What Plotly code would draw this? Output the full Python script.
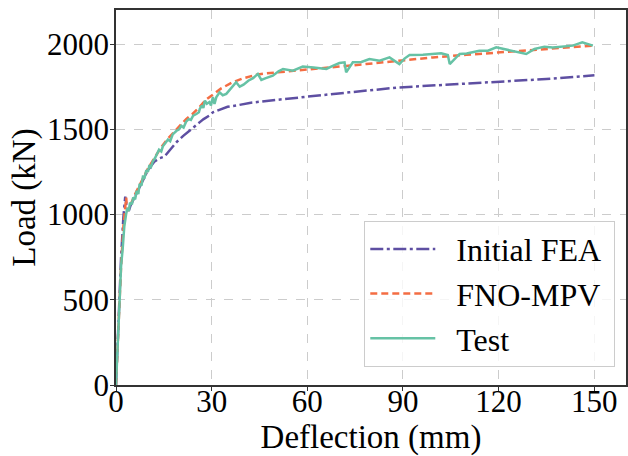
import plotly.graph_objects as go

# ---- data ----
fea_x = [0, 0.8, 1.6, 2.3, 2.7, 2.9, 3.3, 3.8, 4.5, 6, 8, 10, 12, 13.6, 15.2, 17, 19, 21, 23, 25,
         26.3, 27.5, 29.3, 30.4, 33, 35, 37.8, 41.9, 50, 57.6, 73.2, 88.9, 105, 120.3, 135, 150.1]
fea_y = [0, 400, 750, 980, 1083, 1105, 1050, 1010, 1050, 1110, 1190, 1260, 1310, 1330, 1340, 1380,
         1425, 1460, 1493, 1525, 1542, 1560, 1581, 1600, 1620, 1632, 1640, 1655, 1672, 1688, 1717,
         1746, 1762, 1776, 1795, 1817]

fno_x = [0, 0.8, 1.6, 2.4, 2.9, 3.2, 3.5, 4.2, 6, 8, 10, 12, 14, 16, 18, 20, 22, 24, 26.2, 28, 30,
         33, 36.6, 40, 44, 47.1, 55, 62.8, 70, 78.5, 90, 99.4, 110, 120.3, 130, 140, 149.6]
fno_y = [0, 400, 700, 950, 1080, 1100, 1020, 1040, 1120, 1200, 1270, 1330, 1390, 1440, 1480, 1520,
         1560, 1590, 1630, 1670, 1700, 1740, 1776, 1800, 1820, 1828, 1842, 1854, 1868, 1883, 1905,
         1922, 1937, 1952, 1965, 1978, 1991]

test_x = [0, 0.5, 1.1, 1.6, 2.1, 2.6, 3.2, 3.6, 4.0, 4.4, 5.0, 5.4, 6.0, 6.5, 7.0, 7.4, 8.0, 8.5,
          8.9, 9.5, 10.0, 10.5, 11.0, 11.5, 12.2, 12.8, 13.5, 14.2, 14.7, 15.5, 16.3, 17.0, 17.8,
          18.9, 19.8, 20.5, 21.2, 22.0, 22.8, 23.5, 24.2, 25.2, 26.0, 26.3, 27.0, 27.4, 27.9, 28.5,
          29.3, 29.8, 30.4, 30.9, 31.5, 32.5, 33.5, 34.6, 36.0, 37.7, 38.8, 40, 41.5, 43, 44.5,
          45.6, 47, 49.2, 51, 52.4, 55.5, 58.6, 62, 66, 68, 70.1, 71.7, 72.2, 74.3, 77, 79.5, 82.7,
          85.8, 87, 88.9, 90.5, 92.1, 96.3, 99, 102, 104.1, 104.7, 107.8, 110, 114, 116.7, 119.3,
          123.5, 128.7, 131.3, 134.4, 137, 140.2, 143.3, 146.3, 149.6]
test_y = [0, 250, 500, 700, 800, 930, 1005, 1040, 1020, 1070, 1060, 1100, 1090, 1140, 1120, 1180,
          1170, 1230, 1210, 1260, 1250, 1290, 1280, 1310, 1330, 1350, 1380, 1370, 1400, 1420, 1440,
          1430, 1470, 1490, 1500, 1520, 1510, 1545, 1560, 1555, 1580, 1590, 1600, 1620, 1640, 1625,
          1669, 1650, 1660, 1640, 1690, 1649, 1690, 1717, 1700, 1708, 1740, 1776, 1750, 1762, 1785,
          1800, 1825, 1790, 1800, 1815, 1840, 1854, 1844, 1868, 1862, 1854, 1872, 1889, 1893, 1834,
          1893, 1895, 1912, 1903, 1922, 1905, 1883, 1915, 1936, 1938, 1940, 1946, 1936, 1883, 1942,
          1945, 1961, 1961, 1981, 1965, 1942, 1971, 1985, 1980, 1987, 1991, 2010, 1991]

series_names = ["Initial FEA", "FNO-MPV", "Test"]
x_ticks = [0, 30, 60, 90, 120, 150]
y_ticks = [0, 500, 1000, 1500, 2000]

FONT = "'Liberation Serif', 'Times New Roman', Times, serif"
PAD_L = "\u2002"   # gap between legend line and label
PAD_R = "\u2005"   # right padding inside the legend box

fig = go.Figure()
fig.add_trace(go.Scatter(x=fea_x, y=fea_y, mode="lines", name=PAD_L + series_names[0] + PAD_R,
                         legendgroup="a",
                         line=dict(color="#5E4FA2", width=2.5, dash="13px,3.5px,3px,3.5px")))
fig.add_trace(go.Scatter(x=fno_x, y=fno_y, mode="lines", name=PAD_L + series_names[1] + PAD_R,
                         legendgroup="b",
                         line=dict(color="#F46D43", width=2.5, dash="7px,4px")))
fig.add_trace(go.Scatter(x=test_x, y=test_y, mode="lines", name=PAD_L + series_names[2] + PAD_R,
                         legendgroup="c",
                         line=dict(color="#66C2A5", width=2.5)))

axis_common = dict(
    showline=True, linecolor="#333333", linewidth=1.5, mirror=True,
    ticks="outside", ticklen=4, tickcolor="#333333", tickwidth=1,
    showgrid=True, gridcolor="#cccccc", griddash="dash", gridwidth=1,
    zeroline=False, tickfont=dict(family=FONT, size=31, color="black"),
    automargin=False,
)

fig.update_xaxes(range=[0, 160], tickvals=x_ticks, ticklabelstandoff=-16,
                 title=dict(text="Deflection (mm)", font=dict(family=FONT, size=33, color="black"),
                            standoff=18),
                 **axis_common)
fig.update_yaxes(range=[0, 2200], tickvals=y_ticks, ticklabelstandoff=-5,
                 title=dict(text="Load (kN)", font=dict(family=FONT, size=33, color="black"),
                            standoff=1),
                 **axis_common)

fig.update_layout(
    width=628, height=456,
    margin=dict(l=116, r=2, t=10, b=71),
    plot_bgcolor="white", paper_bgcolor="white",
    font=dict(family=FONT, color="black"),
    legend=dict(x=0.979, y=0.049, xanchor="right", yanchor="bottom",
                bgcolor="rgba(255,255,255,0.8)", bordercolor="#cccccc", borderwidth=1,
                font=dict(family=FONT, size=32, color="black"), itemwidth=65,
                tracegroupgap=0, traceorder="normal"),
)

fig.write_html("out.html")
